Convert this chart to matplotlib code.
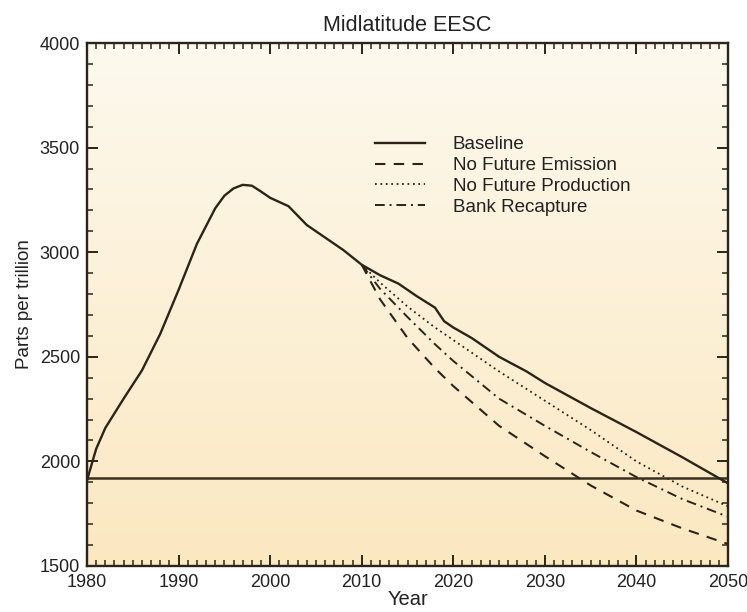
import numpy as np
import matplotlib
matplotlib.use("Agg")
import matplotlib.pyplot as plt
from matplotlib.ticker import MultipleLocator

plt.rcParams['font.family'] = ['Liberation Sans', 'DejaVu Sans']

# Baseline EESC (ppt)
base_years = [1980, 1981, 1982, 1984, 1986, 1988, 1990, 1992, 1994, 1995, 1996,
              1997, 1998, 1999, 2000, 2002, 2004, 2006, 2008, 2010, 2012, 2014,
              2016, 2018, 2019, 2020, 2022, 2025, 2028, 2030, 2035, 2040, 2045, 2050]
base_vals = [1910, 2060, 2160, 2300, 2435, 2610, 2820, 3040, 3210, 3270, 3305,
             3322, 3318, 3290, 3260, 3220, 3130, 3070, 3010, 2940, 2890, 2850,
             2790, 2735, 2670, 2640, 2590, 2500, 2430, 2375, 2255, 2140, 2020, 1895]

# Scenario projections (ppt)
scen_years = [2010, 2012, 2015, 2018, 2020, 2025, 2030, 2035, 2040, 2045, 2050]
no_emission = [2940, 2775, 2590, 2445, 2360, 2170, 2025, 1885, 1765, 1680, 1605]
no_production = [2940, 2855, 2740, 2640, 2580, 2430, 2290, 2150, 2000, 1880, 1785]
bank_recapture = [2940, 2825, 2690, 2560, 2480, 2300, 2170, 2045, 1925, 1820, 1735]

reference_level = 1920

labels = ["Baseline", "No Future Emission", "No Future Production", "Bank Recapture"]

ink = "#2b2519"
text_c = "#222222"

fig = plt.figure(figsize=(7.47, 6.12), dpi=100)
ax = fig.add_axes([0.1165, 0.0752, 0.8581, 0.8545])

# soft vertical background wash
top_c = np.array([253, 249, 238]) / 255
bot_c = np.array([251, 232, 193]) / 255
t = np.linspace(0, 1, 256)[:, None]
grad = top_c[None, :] * (1 - t[..., None]) + bot_c[None, :] * t[..., None]
grad = np.repeat(grad, 2, axis=1)
ax.imshow(grad, extent=[1980, 2050, 1500, 4000], aspect='auto', zorder=0,
          interpolation='bilinear')

ax.axhline(reference_level, color="#3a3020", lw=1.8, zorder=2)

ax.plot(base_years, base_vals, color=ink, lw=1.7, ls='-', label=labels[0], zorder=3)
ax.plot(scen_years, no_emission, color=ink, lw=1.5, ls=(0, (5, 4)), label=labels[1], zorder=3)
ax.plot(scen_years, no_production, color=ink, lw=1.3, ls=(0, (1, 2)), label=labels[2], zorder=3)
ax.plot(scen_years, bank_recapture, color=ink, lw=1.4, ls=(0, (5, 2.5, 1, 2.5)), label=labels[3], zorder=3)

ax.set_xlim(1980, 2050)
ax.set_ylim(1500, 4000)
ax.xaxis.set_major_locator(MultipleLocator(10))
ax.xaxis.set_minor_locator(MultipleLocator(1))
ax.yaxis.set_major_locator(MultipleLocator(500))
ax.yaxis.set_minor_locator(MultipleLocator(100))
ax.tick_params(which='both', direction='in', top=True, right=True, color=ink,
               labelsize=13, labelcolor=text_c)
ax.tick_params(which='major', length=8, width=1.4)
ax.tick_params(which='minor', length=4, width=1.1)
ax.tick_params(axis='x', which='major', pad=6)
ax.tick_params(axis='y', which='major', pad=5)
for s in ax.spines.values():
    s.set_linewidth(1.7)
    s.set_color(ink)

ax.set_title("Midlatitude EESC", fontsize=15.5, color=text_c, pad=9)
ax.set_xlabel("Year", fontsize=14.5, color=text_c, labelpad=-1)
ax.set_ylabel("Parts per trillion", fontsize=13.5, color=text_c, labelpad=5)

leg = ax.legend(loc='upper left', bbox_to_anchor=(0.449, 0.822), frameon=False,
                fontsize=13.5, handlelength=2.7, handletextpad=1.45,
                labelspacing=0.2, borderpad=0, borderaxespad=0)
for txt in leg.get_texts():
    txt.set_color(text_c)

fig.savefig("out.png", dpi=100, facecolor="white")
